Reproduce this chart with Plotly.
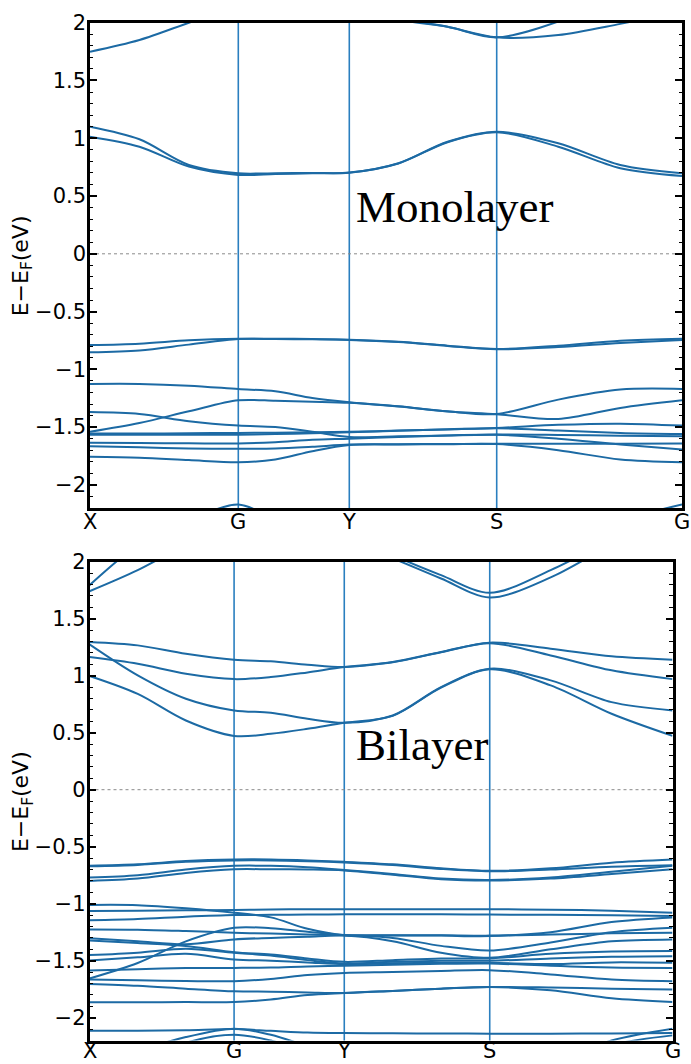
import plotly.graph_objects as go

# ---- k-path -------------------------------------------------------------
path_labels = ["X", "G", "Y", "S", "G"]
mono_nodes = [0.0, 0.2505, 0.438, 0.687, 1.0]
bi_nodes = [0.0, 0.248, 0.437, 0.6865, 1.0]

# sampling points along X-G-Y-S-G (three steps per segment)
mono_k = [0.0, 0.0835, 0.167, 0.2505, 0.313, 0.3755, 0.438,
          0.521, 0.604, 0.687, 0.791, 0.8957, 1.0]
bi_k = [0.0, 0.0827, 0.1653, 0.248, 0.311, 0.374, 0.437,
        0.520, 0.603, 0.6865, 0.791, 0.8955, 1.0]

# ---- monolayer bands (eV) ----------------------------------------------
mono_c1 = [1.100, 0.991, 0.769, 0.697, 0.698, 0.700, 0.703, 0.784, 0.970, 1.057, 0.957, 0.769, 0.697]
mono_c2 = [1.014, 0.927, 0.755, 0.683, 0.690, 0.697, 0.702, 0.782, 0.966, 1.052, 0.927, 0.741, 0.674]
mono_c3 = [1.749, 1.850, 2.000, 2.150, 2.200, 2.220, 2.200, 2.030, 1.965, 1.873, 2.010, 2.250, 2.400]
mono_c4 = [2.600, 2.600, 2.500, 2.450, 2.400, 2.350, 2.300, 2.050, 1.965, 1.873, 1.893, 1.990, 2.100]
mono_v1 = [-0.790, -0.778, -0.749, -0.735, -0.735, -0.738, -0.743, -0.761, -0.795, -0.824, -0.795, -0.752, -0.735]
mono_v2 = [-0.853, -0.836, -0.786, -0.738, -0.738, -0.740, -0.745, -0.763, -0.797, -0.826, -0.807, -0.772, -0.745]
mono_v3 = [-1.126, -1.126, -1.141, -1.170, -1.190, -1.248, -1.285, -1.320, -1.363, -1.386, -1.262, -1.175, -1.170]
mono_v4 = [-1.370, -1.386, -1.449, -1.487, -1.500, -1.540, -1.585, -1.580, -1.572, -1.564, -1.568, -1.575, -1.580]
mono_v5 = [-1.540, -1.464, -1.363, -1.268, -1.272, -1.280, -1.290, -1.322, -1.365, -1.388, -1.430, -1.334, -1.268]
mono_v6 = [-1.555, -1.555, -1.553, -1.550, -1.548, -1.545, -1.541, -1.530, -1.518, -1.507, -1.480, -1.470, -1.487]
mono_v7 = [-1.565, -1.565, -1.565, -1.565, -1.560, -1.553, -1.545, -1.532, -1.520, -1.510, -1.530, -1.550, -1.559]
mono_v8 = [-1.636, -1.638, -1.640, -1.642, -1.630, -1.610, -1.600, -1.585, -1.572, -1.566, -1.600, -1.650, -1.694]
mono_v9 = [-1.665, -1.675, -1.685, -1.688, -1.685, -1.670, -1.651, -1.648, -1.646, -1.645, -1.644, -1.643, -1.642]
mono_v10 = [-1.757, -1.765, -1.785, -1.804, -1.780, -1.708, -1.655, -1.650, -1.648, -1.647, -1.700, -1.780, -1.804]
mono_v11 = [-2.600, -2.450, -2.300, -2.170, -2.300, -2.450, -2.500, -2.550, -2.550, -2.550, -2.450, -2.300, -2.170]

mono_bands = [mono_c1, mono_c2, mono_c3, mono_c4,
              mono_v1, mono_v2, mono_v3, mono_v4, mono_v5, mono_v6,
              mono_v7, mono_v8, mono_v9, mono_v10, mono_v11]

# ---- bilayer bands (eV) ------------------------------------------------
bi_c1 = [1.794, 2.150, 2.400, 2.600, 2.700, 2.750, 2.800, 2.800, 2.800, 2.800, 2.800, 2.800, 2.800]
bi_c2 = [1.741, 1.926, 2.150, 2.350, 2.450, 2.500, 2.550, 2.600, 2.600, 2.600, 2.600, 2.600, 2.600]
bi_c3 = [1.296, 1.266, 1.193, 1.141, 1.126, 1.097, 1.076, 1.120, 1.208, 1.290, 1.237, 1.170, 1.141]
bi_c4 = [1.275, 1.003, 0.798, 0.695, 0.675, 0.622, 0.587, 0.651, 0.900, 1.061, 0.959, 0.768, 0.695]
bi_c5 = [1.164, 1.105, 1.017, 0.970, 0.988, 1.029, 1.076, 1.118, 1.205, 1.285, 1.178, 1.047, 0.970]
bi_c6 = [0.997, 0.840, 0.607, 0.472, 0.490, 0.534, 0.587, 0.648, 0.895, 1.056, 0.915, 0.666, 0.472]
bi_c7 = [2.800, 2.800, 2.700, 2.600, 2.500, 2.400, 2.300, 2.060, 1.882, 1.727, 1.926, 2.200, 2.500]
bi_c8 = [2.700, 2.700, 2.600, 2.500, 2.400, 2.300, 2.200, 2.030, 1.853, 1.686, 1.862, 2.150, 2.400]
bi_v1 = [-0.668, -0.655, -0.625, -0.612, -0.612, -0.620, -0.633, -0.655, -0.690, -0.712, -0.690, -0.640, -0.612]
bi_v2 = [-0.672, -0.660, -0.632, -0.620, -0.620, -0.627, -0.638, -0.660, -0.695, -0.716, -0.700, -0.675, -0.662]
bi_v3 = [-0.771, -0.750, -0.700, -0.668, -0.668, -0.680, -0.704, -0.740, -0.780, -0.792, -0.770, -0.720, -0.668]
bi_v4 = [-0.800, -0.780, -0.730, -0.698, -0.698, -0.700, -0.708, -0.745, -0.785, -0.796, -0.780, -0.740, -0.698]
bi_v5 = [-1.011, -1.013, -1.040, -1.079, -1.120, -1.220, -1.276, -1.278, -1.280, -1.284, -1.250, -1.160, -1.120]
bi_v6 = [-1.064, -1.062, -1.058, -1.055, -1.050, -1.049, -1.049, -1.049, -1.049, -1.049, -1.052, -1.062, -1.079]
bi_v7 = [-1.146, -1.135, -1.115, -1.100, -1.098, -1.095, -1.093, -1.093, -1.093, -1.095, -1.098, -1.102, -1.108]
bi_v8 = [-1.226, -1.228, -1.240, -1.255, -1.262, -1.270, -1.276, -1.300, -1.370, -1.410, -1.340, -1.250, -1.211]
bi_v9 = [-1.304, -1.330, -1.355, -1.313, -1.300, -1.290, -1.280, -1.330, -1.430, -1.475, -1.400, -1.330, -1.313]
bi_v10 = [-1.322, -1.345, -1.370, -1.425, -1.445, -1.480, -1.510, -1.495, -1.480, -1.480, -1.440, -1.420, -1.416]
bi_v11 = [-1.451, -1.430, -1.395, -1.431, -1.455, -1.495, -1.525, -1.510, -1.500, -1.500, -1.480, -1.465, -1.460]
bi_v12 = [-1.498, -1.470, -1.440, -1.489, -1.500, -1.515, -1.530, -1.522, -1.518, -1.519, -1.530, -1.515, -1.519]
bi_v13 = [-1.586, -1.575, -1.565, -1.563, -1.560, -1.550, -1.545, -1.535, -1.527, -1.525, -1.545, -1.560, -1.563]
bi_v14 = [-1.656, -1.520, -1.330, -1.211, -1.215, -1.245, -1.274, -1.276, -1.277, -1.280, -1.270, -1.260, -1.255]
bi_v15 = [-1.665, -1.672, -1.678, -1.680, -1.660, -1.625, -1.607, -1.600, -1.590, -1.583, -1.620, -1.665, -1.680]
bi_v16 = [-1.704, -1.720, -1.745, -1.768, -1.772, -1.778, -1.783, -1.765, -1.745, -1.730, -1.735, -1.745, -1.753]
bi_v17 = [-1.865, -1.865, -1.863, -1.862, -1.840, -1.800, -1.783, -1.765, -1.745, -1.730, -1.760, -1.830, -1.862]
bi_v18 = [-2.114, -2.114, -2.110, -2.100, -2.115, -2.130, -2.135, -2.137, -2.138, -2.140, -2.140, -2.138, -2.135]
bi_v19 = [-2.500, -2.300, -2.170, -2.096, -2.150, -2.250, -2.350, -2.450, -2.500, -2.500, -2.400, -2.200, -2.096]
bi_v20 = [-2.600, -2.400, -2.220, -2.149, -2.200, -2.300, -2.400, -2.500, -2.550, -2.550, -2.450, -2.240, -2.155]

bi_bands = [bi_c1, bi_c2, bi_c3, bi_c4, bi_c5, bi_c6, bi_c7, bi_c8,
            bi_v1, bi_v2, bi_v3, bi_v4, bi_v5, bi_v6, bi_v7, bi_v8, bi_v9, bi_v10,
            bi_v11, bi_v12, bi_v13, bi_v14, bi_v15, bi_v16, bi_v17, bi_v18,
            bi_v19, bi_v20]

energy_ticks = [-2, -1.5, -1, -0.5, 0, 0.5, 1, 1.5, 2]
energy_labels = ["\u22122", "\u22121.5", "\u22121", "\u22120.5", "0", "0.5", "1", "1.5", "2"]

BAND_COLOR = "#1c6aa4"
VLINE_COLOR = "#2a7fbf"
W, H = 691, 1064

fig = go.Figure()


def add_panel(k, bands, xa, ya):
    for b in bands:
        fig.add_trace(go.Scatter(
            x=k, y=b, mode="lines", xaxis=xa, yaxis=ya, showlegend=False,
            hoverinfo="skip",
            line=dict(color=BAND_COLOR, width=2, shape="spline", smoothing=0.9),
        ))


add_panel(mono_k, mono_bands, "x", "y")
add_panel(bi_k, bi_bands, "x2", "y2")

font_axis = dict(family="DejaVu Sans", size=21, color="black")

# pixel geometry of the two frames
top_box = dict(x0=90, x1=682, y0=22.7, y1=508)
bot_box = dict(x0=89.5, x1=672.5, y0=561.7, y1=1040.5)


def dom(box):
    return ([box["x0"] / W, box["x1"] / W],
            [1 - box["y1"] / H, 1 - box["y0"] / H])


def xaxis_cfg(box, anchor):
    xd, _ = dom(box)
    return dict(domain=xd, range=[0, 1], showticklabels=False, ticks="",
                showgrid=False, zeroline=False, showline=True,
                linecolor="black", linewidth=2.5, mirror=True,
                anchor=anchor, automargin=False)


def yaxis_cfg(box, anchor):
    _, yd = dom(box)
    return dict(domain=yd, range=[-2.2, 2], tickvals=energy_ticks,
                ticktext=energy_labels, ticks="inside", ticklen=7,
                tickwidth=1.5, tickcolor="black", showgrid=False,
                zeroline=False, showline=True, linecolor="black",
                linewidth=2.5, mirror="ticks", tickfont=font_axis,
                ticklabelstandoff=-3,
                anchor=anchor, automargin=False,
                minor=dict(ticks="inside", ticklen=3.5, dtick=0.1,
                           tickwidth=1.2, tickcolor="black", showgrid=False))


fig.update_layout(
    width=W, height=H, margin=dict(l=0, r=0, t=0, b=0),
    paper_bgcolor="white", plot_bgcolor="white",
    xaxis=xaxis_cfg(top_box, "y"), yaxis=yaxis_cfg(top_box, "x"),
    xaxis2=xaxis_cfg(bot_box, "y2"), yaxis2=yaxis_cfg(bot_box, "x2"),
)

shapes = []
for xref, yref, nodes in (("x", "y", mono_nodes), ("x2", "y2", bi_nodes)):
    for kn in nodes[1:-1]:
        shapes.append(dict(type="line", xref=xref, yref=yref + " domain",
                           x0=kn, x1=kn, y0=0, y1=1, layer="below",
                           line=dict(color=VLINE_COLOR, width=1.6)))
    shapes.append(dict(type="line", xref=xref + " domain", yref=yref,
                       x0=0, x1=1, y0=0, y1=0, layer="below",
                       line=dict(color="#8a8a8a", width=1, dash="dot")))
fig.update_layout(shapes=shapes)

annotations = []
# y-axis titles
for box in (top_box, bot_box):
    yc = 1 - (box["y0"] + box["y1"]) / 2 / H
    annotations.append(dict(
        text="E\u2212E<sub>F</sub>(eV)", xref="paper", yref="paper",
        x=22 / W, y=yc, xanchor="center", yanchor="middle", textangle=-90,
        showarrow=False, font=dict(family="DejaVu Sans", size=22, color="black")))

# high-symmetry point labels under each frame
for kn, lab in zip(mono_nodes, path_labels):
    annotations.append(dict(
        text=lab, xref="x", yref="paper", x=kn, y=1 - (top_box["y1"] + 1) / H,
        xanchor="center", yanchor="top", showarrow=False, borderpad=0,
        font=font_axis))
for kn, lab in zip(bi_nodes, path_labels):
    annotations.append(dict(
        text=lab, xref="x2", yref="paper", x=kn, y=0,
        xanchor="center", yanchor="bottom", showarrow=False, borderpad=0,
        font=font_axis))

annotations.append(dict(text="Monolayer", xref="x", yref="y", x=0.6157, y=0.173,
                        xanchor="center", yanchor="bottom", showarrow=False,
                        font=dict(family="Liberation Serif", size=45, color="black")))
annotations.append(dict(text="Bilayer", xref="x2", yref="y2", x=0.5695, y=0.158,
                        xanchor="center", yanchor="bottom", showarrow=False,
                        font=dict(family="Liberation Serif", size=45, color="black")))
fig.update_layout(annotations=annotations)

fig.write_html("out.html")
